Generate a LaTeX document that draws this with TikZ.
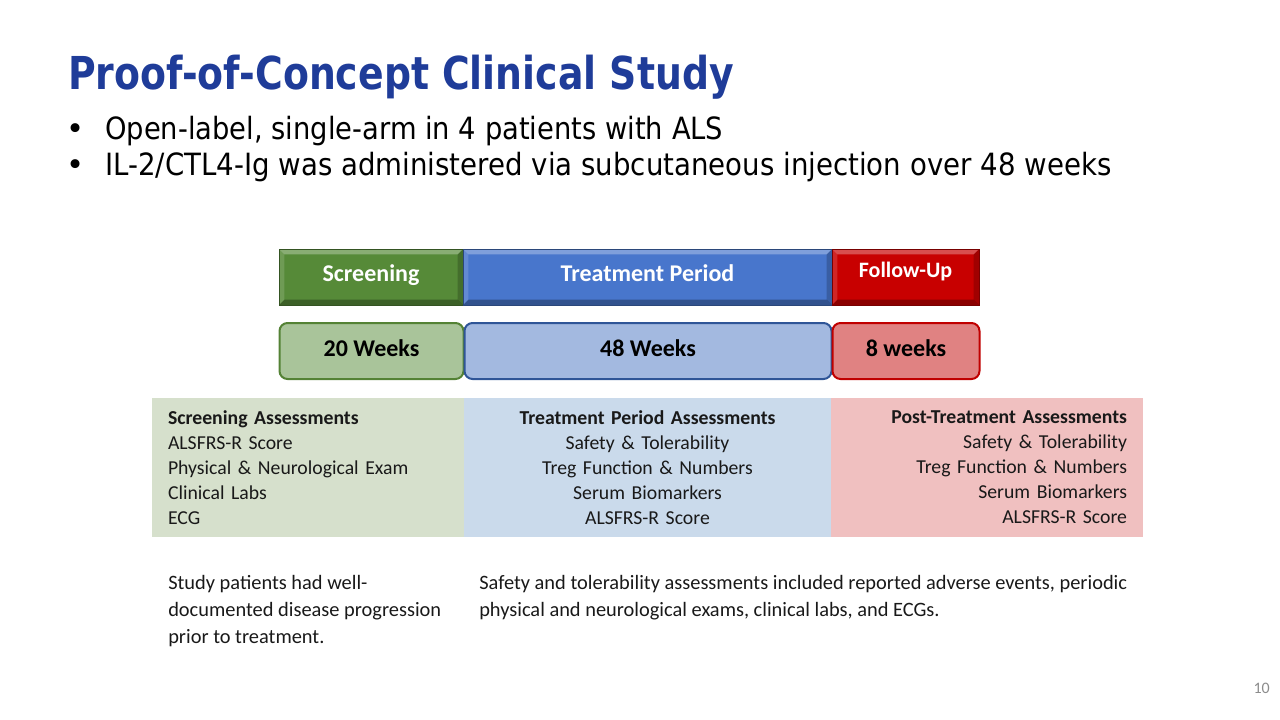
\documentclass[tikz,border=0pt]{standalone}
\usepackage{fontspec}
\setmainfont{Carlito}
\newfontfamily\comicfont{DejaVu Sans}
\usetikzlibrary{positioning}
\definecolor{titleblue}{HTML}{1F3C99}
\definecolor{barGreen}{HTML}{568A38}
\definecolor{barBlue}{HTML}{4876CC}
\definecolor{barRed}{HTML}{C80000}
\definecolor{wkGreen}{HTML}{A9C49A}
\definecolor{wkGreenLine}{HTML}{548235}
\definecolor{wkBlue}{HTML}{A3B9E0}
\definecolor{wkBlueLine}{HTML}{2F5597}
\definecolor{wkRed}{HTML}{E08282}
\definecolor{wkRedLine}{HTML}{C00000}
\definecolor{asGreen}{HTML}{D6E0CC}
\definecolor{asBlue}{HTML}{CADAEB}
\definecolor{asRed}{HTML}{F0C0C0}
\tikzset{
  phase/.style={rectangle, inner sep=0pt, outer sep=0pt, minimum height=42pt,
    fill=#1, draw=#1!60!black, line width=0.6pt, text=white,
    text height=10pt, text depth=4pt,
    font=\bfseries\fontsize{18}{20}\selectfont,
    path picture={
      \fill[white, opacity=.3] (path picture bounding box.north west) -- (path picture bounding box.north east)
        -- ([shift={(-4pt,-4pt)}]path picture bounding box.north east) -- ([shift={(4pt,-4pt)}]path picture bounding box.north west) -- cycle;
      \fill[white, opacity=.15] (path picture bounding box.north west) -- (path picture bounding box.south west)
        -- ([shift={(4pt,4pt)}]path picture bounding box.south west) -- ([shift={(4pt,-4pt)}]path picture bounding box.north west) -- cycle;
      \fill[black, opacity=.3] (path picture bounding box.south west) -- (path picture bounding box.south east)
        -- ([shift={(-4pt,4pt)}]path picture bounding box.south east) -- ([shift={(4pt,4pt)}]path picture bounding box.south west) -- cycle;
      \fill[black, opacity=.2] (path picture bounding box.north east) -- (path picture bounding box.south east)
        -- ([shift={(-4pt,4pt)}]path picture bounding box.south east) -- ([shift={(-4pt,-4pt)}]path picture bounding box.north east) -- cycle;
    }},
  weeks/.style 2 args={rectangle, rounded corners=6pt, inner sep=0pt, outer sep=0pt,
    minimum height=42pt, fill=#1, draw=#2, line width=1.5pt,
    text height=12pt, text depth=3.4pt,
    font=\bfseries\fontsize{18}{20}\selectfont},
  assess/.style={rectangle, inner xsep=12pt, inner ysep=0pt, outer sep=0pt,
    minimum height=104.25pt, fill=#1, text=black!90, text width=210pt,
    font=\fontsize{14.8}{18.75}\selectfont},
  note/.style={inner sep=0pt, align=left, text=black!90,
    font=\fontsize{15.3}{20.25}\selectfont}
}
\begin{document}
\begin{tikzpicture}[x=0.75pt, y=-0.75pt]
\useasboundingbox (0,0) rectangle (1280,720);
% title and bullets
\node[anchor=base west, inner sep=0pt, text=titleblue] (title) at (68,90)
  {\resizebox{499pt}{\height}{\comicfont\bfseries\fontsize{34}{40}\selectfont Proof-of-Concept Clinical Study}};
\node[anchor=base, inner sep=0pt] (dot1) at (76,140) {\comicfont\fontsize{23}{28}\selectfont •};
\node[anchor=base west, inner sep=0pt] (bullet1) at (105,140)
  {\resizebox{463.5pt}{\height}{\comicfont\fontsize{23}{28}\selectfont Open-label, single-arm in 4 patients with ALS}};
\node[anchor=base, inner sep=0pt] (dot2) at (76,176) {\comicfont\fontsize{23}{28}\selectfont •};
\node[anchor=base west, inner sep=0pt] (bullet2) at (105,176)
  {\resizebox{754.5pt}{\height}{\comicfont\fontsize{23}{28}\selectfont IL-2/CTL4-Ig was administered via subcutaneous injection over 48 weeks}};

% study phases
\node[phase=barGreen, minimum width=138pt] (screen) at (371,277) {Screening};
\node[phase=barBlue, minimum width=276.75pt, right=0pt of screen] (treat) {Treatment Period};
\node[phase=barRed, minimum width=110.25pt, right=0pt of treat,
  font=\bfseries\fontsize{16.5}{18}\selectfont] (follow) {\raisebox{2.25pt}{Follow-Up}};

% durations
\node[weeks={wkGreen}{wkGreenLine}, minimum width=138pt] (wk20) at (371.5,351) {20 Weeks};
\node[weeks={wkBlue}{wkBlueLine}, minimum width=275.25pt, right=0.75pt of wk20] (wk48) {48 Weeks};
\node[weeks={wkRed}{wkRedLine}, minimum width=110.25pt, right=0.75pt of wk48] (wk8) {8 weeks};

% assessments
\node[assess=asGreen, align=left] (screenassess) at (308,467.5)
  {\textbf{Screening Assessments}\\ALSFRS-R Score\\Physical \& Neurological Exam\\Clinical Labs\\ECG};
\node[assess=asBlue, text width=251.25pt, align=center, right=0pt of screenassess] (treatassess)
  {\textbf{Treatment Period Assessments}\\Safety \& Tolerability\\Treg Function \& Numbers\\Serum Biomarkers\\ALSFRS-R Score};
\node[assess=asRed, align=right, right=0pt of treatassess] (postassess)
  {\textbf{Post-Treatment Assessments}\\Safety \& Tolerability\\Treg Function \& Numbers\\Serum Biomarkers\\ALSFRS-R Score};

% notes
\node[note, anchor=north west] (note1) at (168,575)
  {Study patients had well-\\documented disease progression\\prior to treatment.};
\node[note, anchor=north west] (note2) at (479,575)
  {Safety and tolerability assessments included reported adverse events, periodic\\physical and neurological exams, clinical labs, and ECGs.};

\node[anchor=base east, inner sep=0pt, text=black!45, font=\fontsize{12}{14}\selectfont] (page) at (1270,693) {10};
\end{tikzpicture}
\end{document}
